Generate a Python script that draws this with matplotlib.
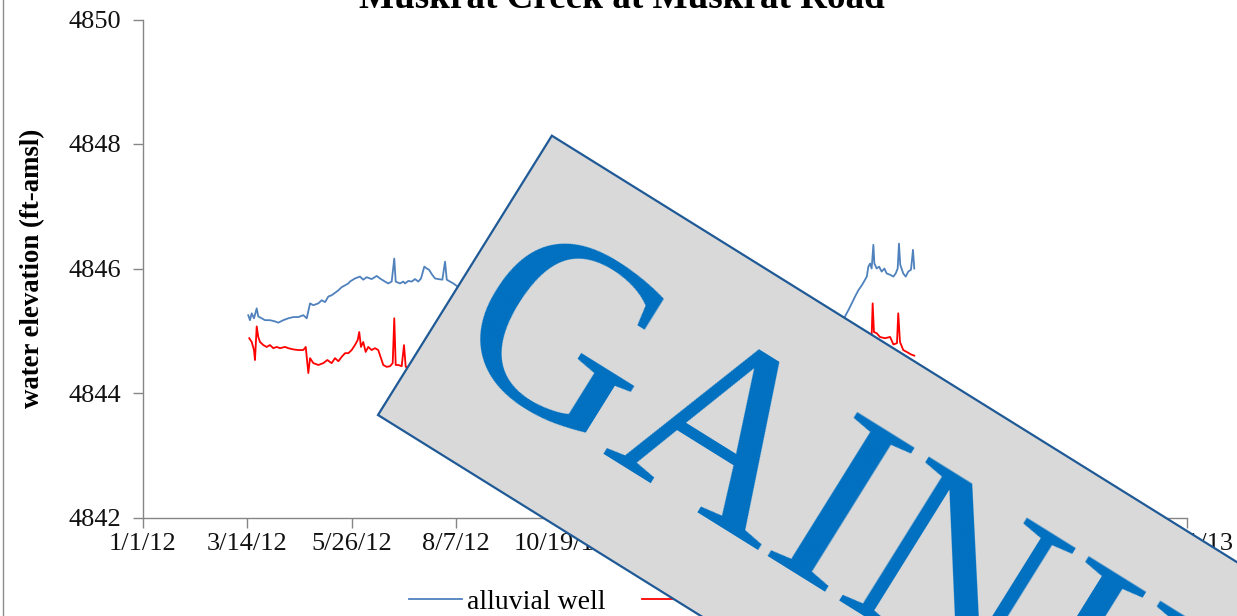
"""
Alluvial well and stream water elevations at Muskrat Creek, with the
GAINING reach banner laid over the time series
"""

import datetime as dt
import matplotlib.pyplot as plt
import matplotlib.dates as mdates
from matplotlib.patches import Polygon
import numpy as np
import pandas as pd


#---------------------------------------------------------------------------------------------------
# Input Parameters
#---------------------------------------------------------------------------------------------------

start_date = dt.datetime(2012, 1, 1)

# Alluvial well record (days since 1 Jan 2012, ft-amsl)
well_days = [73.6, 74.8, 76.0, 77.6, 79.5, 80.6, 83.0, 85.3, 88.8, 92.3, 94.6, 98.1, 101.6, 105.1,
             108.6, 112.1, 114.5, 116.8, 119.1, 122.6, 125.0, 127.3, 129.6, 131.9, 134.3, 136.6,
             138.9, 141.3, 143.6, 144.7, 148.2, 151.7, 154.0, 156.4, 159.9, 163.4, 165.7, 169.2,
             171.5, 173.9, 175.7, 176.7, 179.7, 182.0, 183.2, 185.5, 187.9, 190.2, 192.5, 194.4,
             196.7, 198.4, 200.0, 201.9, 204.2, 206.5, 209.3, 211.2, 212.4, 214.7, 217.0, 219.4,
             221.7, 263.6, 319.6, 389.5, 445.4, 480.3, 490.9, 493.2, 495.6, 497.9, 500.2, 502.6,
             504.9, 506.1, 507.2, 508.4, 509.5, 510.7, 511.4, 513.0, 514.7, 516.5, 518.4, 520.0,
             522.4, 524.7, 526.3, 527.7, 528.6, 529.5, 531.6, 533.3, 535.1, 537.0, 538.4, 539.3]
well_elev = [4845.25, 4845.17, 4845.28, 4845.20, 4845.36, 4845.23, 4845.20, 4845.17, 4845.17,
             4845.15, 4845.13, 4845.17, 4845.20, 4845.22, 4845.22, 4845.25, 4845.20, 4845.44,
             4845.41, 4845.44, 4845.49, 4845.46, 4845.55, 4845.57, 4845.61, 4845.65, 4845.70,
             4845.73, 4845.76, 4845.79, 4845.84, 4845.87, 4845.82, 4845.86, 4845.83, 4845.88,
             4845.84, 4845.79, 4845.76, 4845.79, 4846.16, 4845.79, 4845.76, 4845.79, 4845.76,
             4845.80, 4845.79, 4845.83, 4845.79, 4845.84, 4846.03, 4846.00, 4845.98, 4845.91,
             4845.84, 4845.83, 4845.82, 4846.11, 4845.82, 4845.79, 4845.76, 4845.72, 4845.68,
             4845.55, 4845.40, 4845.20, 4845.05, 4845.00, 4845.23, 4845.33, 4845.44, 4845.55,
             4845.65, 4845.73, 4845.82, 4845.87, 4846.03, 4846.08, 4846.00, 4846.38, 4846.08,
             4846.00, 4846.03, 4845.95, 4846.00, 4845.92, 4845.90, 4845.87, 4845.92, 4846.00,
             4846.40, 4846.06, 4845.92, 4845.87, 4845.95, 4845.98, 4846.30, 4846.00]

# Stream record (days since 1 Jan 2012, ft-amsl)
stream_days = [74.3, 76.0, 77.6, 78.3, 79.5, 80.6, 81.8, 84.1, 86.5, 88.8, 91.1, 93.5, 95.8, 99.3,
               101.6, 105.1, 108.6, 112.1, 113.8, 114.9, 115.6, 116.8, 119.1, 122.6, 126.1, 128.9,
               131.9, 134.3, 136.6, 138.9, 141.3, 143.6, 145.9, 148.2, 150.1, 151.2, 152.4, 154.0,
               155.7, 157.5, 159.9, 162.2, 164.5, 166.4, 168.0, 170.4, 172.7, 174.6, 175.7, 176.7,
               178.5, 180.9, 182.5, 183.7, 185.5, 249.6, 354.5, 459.4, 501.4, 506.1, 509.5, 510.2,
               511.1, 513.0, 515.3, 518.8, 522.4, 524.7, 527.2, 528.1, 529.3, 531.6, 534.0, 537.0,
               539.3]
stream_elev = [4844.88, 4844.82, 4844.69, 4844.53, 4845.07, 4844.90, 4844.82, 4844.77, 4844.74,
               4844.77, 4844.72, 4844.74, 4844.72, 4844.74, 4844.72, 4844.70, 4844.69, 4844.69,
               4844.74, 4844.48, 4844.32, 4844.56, 4844.48, 4844.45, 4844.48, 4844.53, 4844.48,
               4844.56, 4844.51, 4844.58, 4844.64, 4844.64, 4844.69, 4844.77, 4844.85, 4844.98,
               4844.74, 4844.82, 4844.66, 4844.74, 4844.69, 4844.72, 4844.69, 4844.56, 4844.45,
               4844.42, 4844.43, 4844.48, 4845.20, 4844.45, 4844.45, 4844.43, 4844.77, 4844.42,
               4844.41, 4844.35, 4844.30, 4844.35, 4844.70, 4844.90, 4844.92, 4845.44, 4844.98,
               4844.96, 4844.90, 4844.88, 4844.90, 4844.78, 4844.80, 4845.28, 4844.82, 4844.69,
               4844.66, 4844.62, 4844.60]

series_labels = ['alluvial well', 'stream']
title = 'Muskrat Creek at Muskrat Road'
ylabel = 'water elevation (ft-amsl)'
banner_text = 'GAINING'

# Axis ticks
xtick_dates = pd.date_range('2012-01-01', periods=11, freq='73D')
yticks = [4842, 4844, 4846, 4848, 4850]

# Banner geometry (pixels from top left of figure)
banner_corner = (378, 415)
banner_angle = 31.9
banner_height = 329
banner_length = 1100


#---------------------------------------------------------------------------------------------------
# Main Program
#---------------------------------------------------------------------------------------------------

plt.rcParams['font.family'] = ['Liberation Serif', 'DejaVu Serif']

W, H = 1237, 616
fig = plt.figure(figsize=(W / 100, H / 100), dpi=100)
ax = fig.add_axes([143 / W, 1 - 517.5 / H, 1044 / W, 498 / H])

well_t = start_date + pd.to_timedelta(well_days, unit='D')
stream_t = start_date + pd.to_timedelta(stream_days, unit='D')
ax.plot(well_t, well_elev, c='#4F81BD', lw=1.3, label=series_labels[0])
ax.plot(stream_t, stream_elev, c='#FF0000', lw=1.3, label=series_labels[1])

# Axis formatting
ax.set_xlim(xtick_dates[0], xtick_dates[-1])
ax.set_ylim(yticks[0], yticks[-1])
ax.set_xticks(xtick_dates)
ax.set_xticklabels([f"{t.month}/{t.day}/{t.year % 100}" for t in xtick_dates])
ax.set_yticks(yticks)
for s in ['top', 'right']:
    ax.spines[s].set_visible(False)
for s in ['left', 'bottom']:
    ax.spines[s].set_color('#868686')
    ax.spines[s].set_linewidth(1.0)
ax.tick_params(axis='both', direction='out', length=7, width=1.0, color='#868686',
               labelsize=19, labelcolor='#111111')
ax.tick_params(axis='x', pad=4)
ax.tick_params(axis='y', pad=9)

fig.text(622 / W, 1 - 7.5 / H, title, ha='center', va='baseline', fontsize=26.7, weight='bold')
fig.text(33 / W, 1 - 268 / H, ylabel, ha='center', va='center', rotation=90, fontsize=19.3,
         weight='bold')

# Chart area border on the left
fig.add_artist(plt.Line2D([3 / W, 3 / W], [0, 1], color='#8c8c8c', lw=1.0))

fig.legend(loc='center left', bbox_to_anchor=(409 / W, 1 - 602 / H), ncols=2, frameon=False,
           fontsize=20, handlelength=1.9, handletextpad=0.2, columnspacing=1.3,
           borderpad=0, borderaxespad=0)

# Banner overlay in pixel coordinates
over = fig.add_axes([0, 0, 1, 1], zorder=10)
over.set_xlim(0, W)
over.set_ylim(H, 0)
over.axis('off')
over.patch.set_visible(False)

th = np.deg2rad(banner_angle)
d = np.array([np.cos(th), np.sin(th)])
up = np.array([np.sin(th), -np.cos(th)])
p1 = np.array(banner_corner, dtype=float)
corners = [p1, p1 + banner_length * d, p1 + banner_length * d + banner_height * up,
           p1 + banner_height * up]
over.add_patch(Polygon(corners, closed=True, fc='#D9D9D9', ec='#1F5A96', lw=1.6))

anchor = p1 + 24 * d + 80 * up
over.text(anchor[0], anchor[1], banner_text, rotation=-banner_angle, rotation_mode='anchor',
          ha='left', va='baseline', fontsize=186, color='#0070C0')

fig.savefig('out.png', dpi=100)
